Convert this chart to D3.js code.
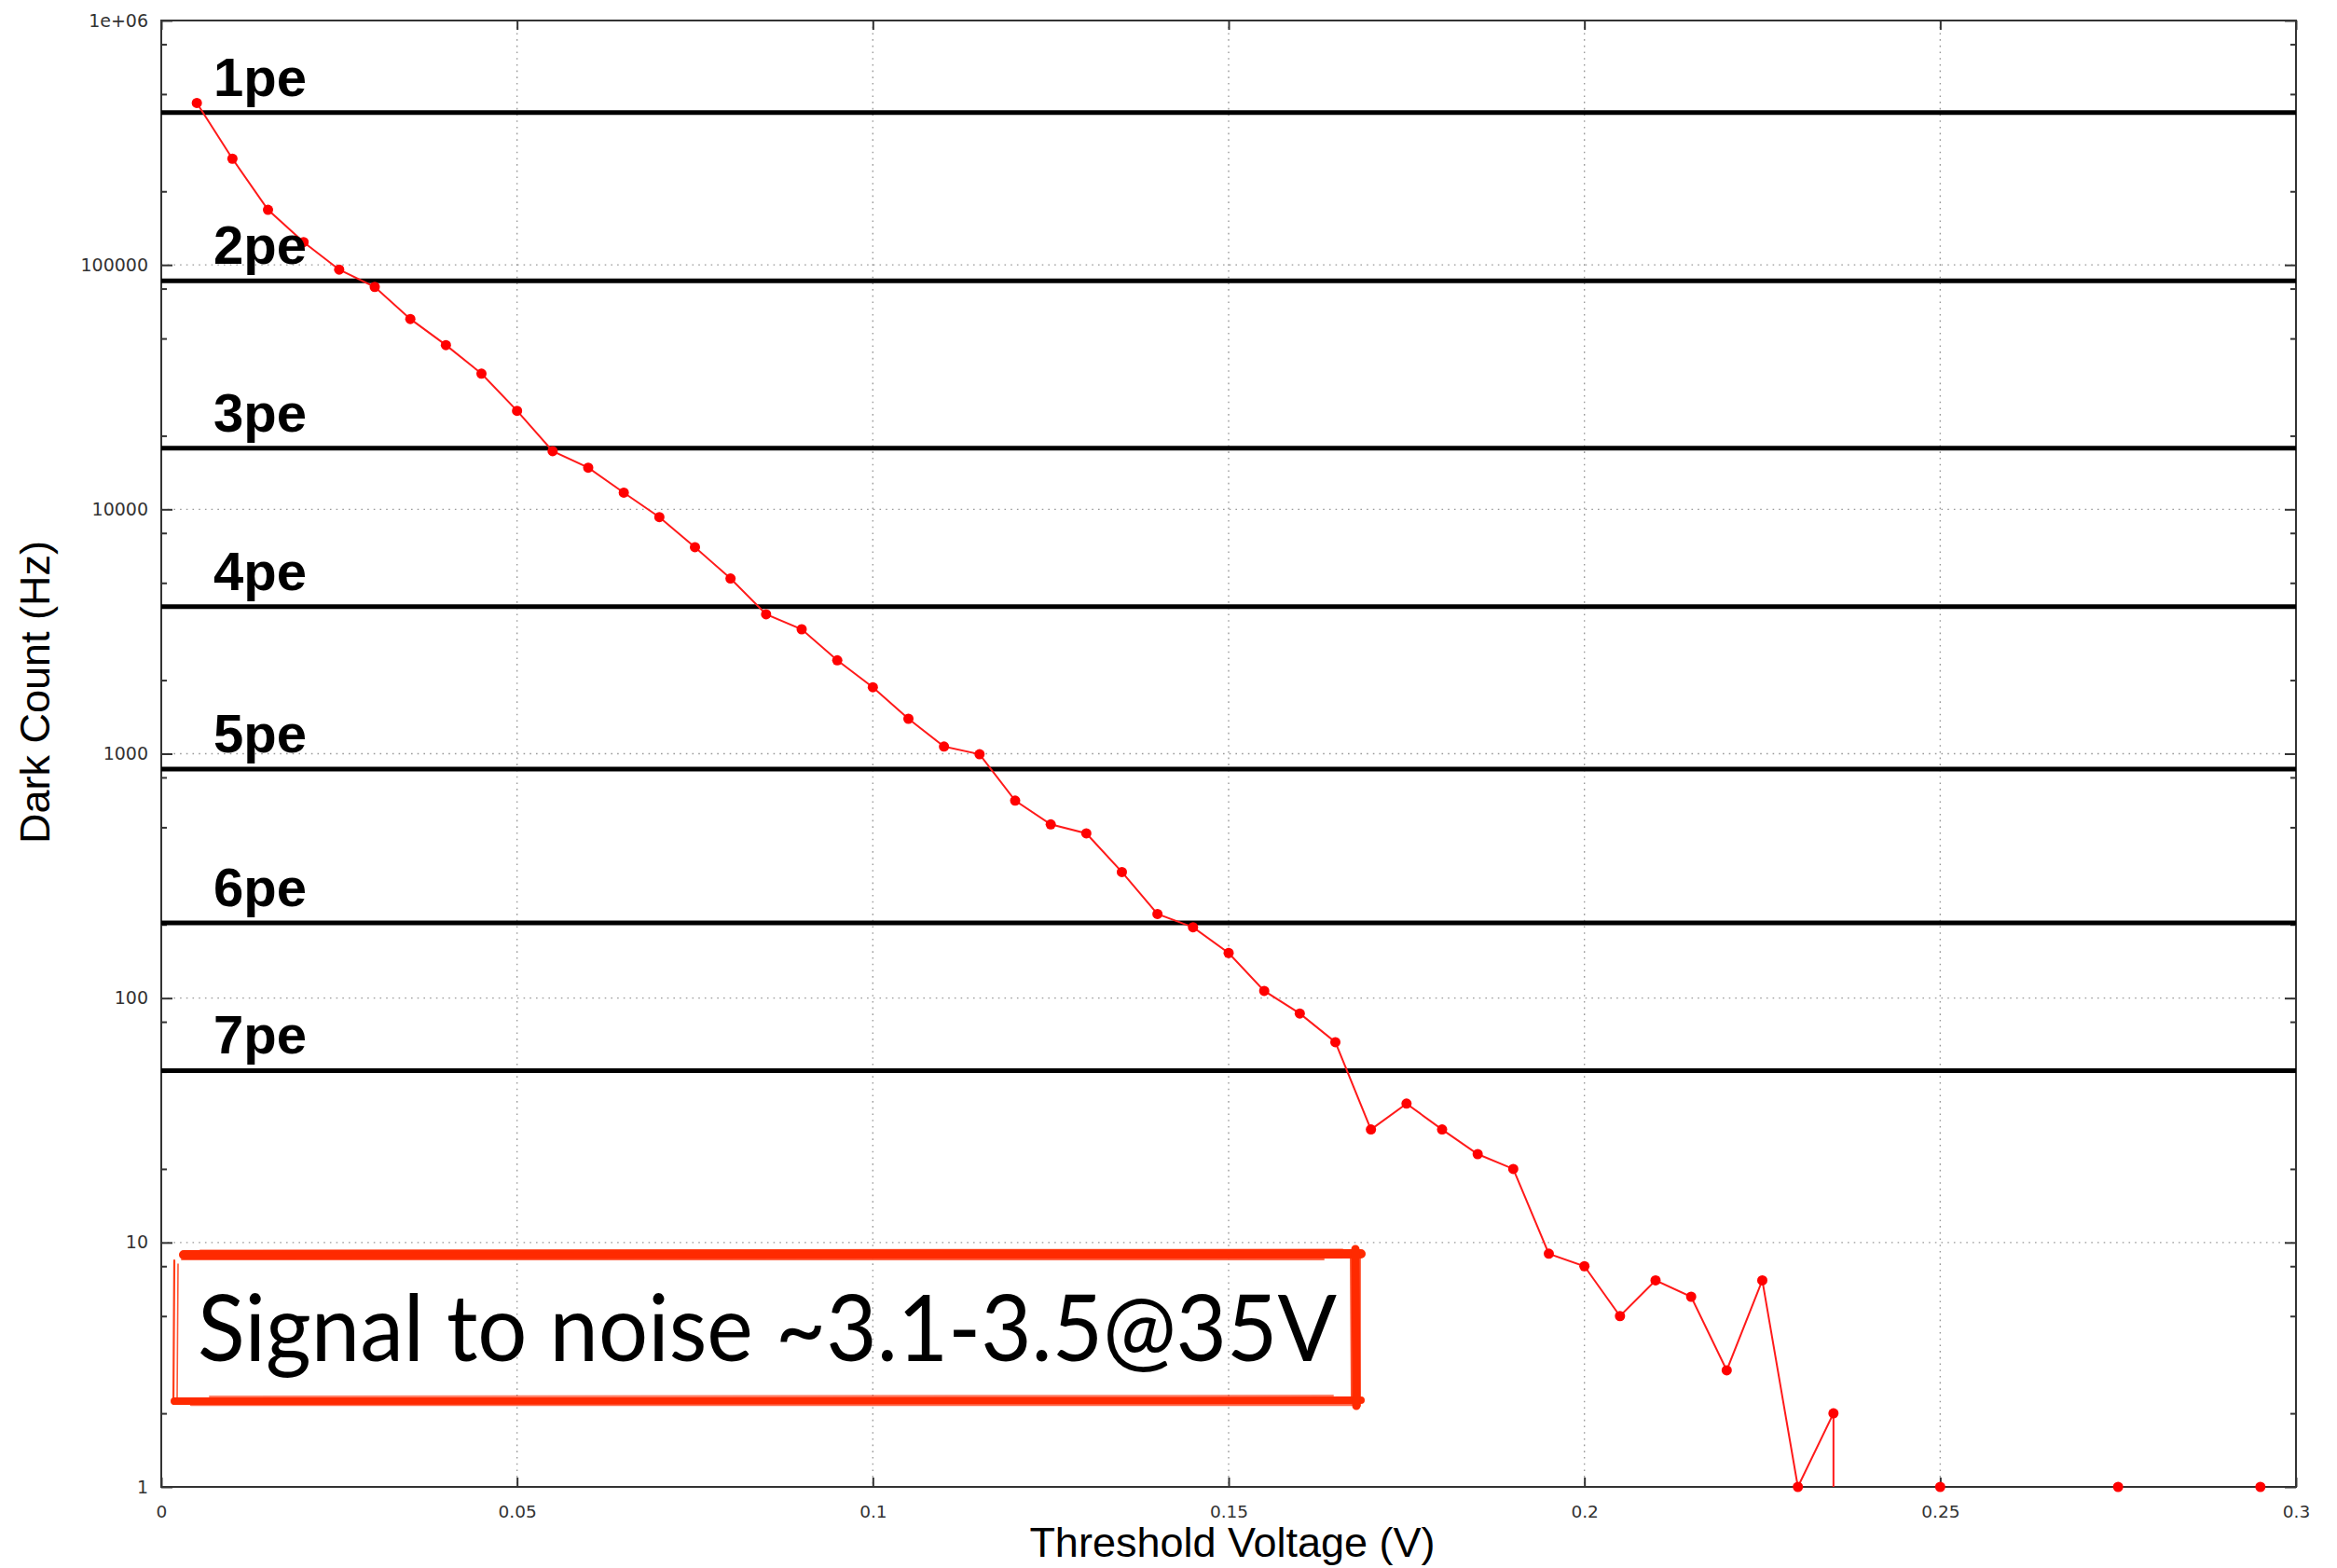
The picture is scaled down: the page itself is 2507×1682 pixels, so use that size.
<!DOCTYPE html>
<html>
<head>
<meta charset="utf-8">
<script src="https://cdn.jsdelivr.net/npm/d3@7"></script>
<style>
  html, body { margin: 0; padding: 0; background: #fff; }
  svg { display: block; }
</style>
</head>
<body>
<svg id="chart" width="2507" height="1682"></svg>
<script>
// Dark count rate vs. discriminator threshold (SiPM at 35 V)
const thresholdVolts = [
  0.005, 0.010, 0.015, 0.020, 0.025, 0.030, 0.035, 0.040, 0.045, 0.050,
  0.055, 0.060, 0.065, 0.070, 0.075, 0.080, 0.085, 0.090, 0.095, 0.100,
  0.105, 0.110, 0.115, 0.120, 0.125, 0.130, 0.135, 0.140, 0.145, 0.150,
  0.155, 0.160, 0.165, 0.170, 0.175, 0.180, 0.185, 0.190, 0.195, 0.200,
  0.205, 0.210, 0.215, 0.220, 0.225, 0.230, 0.235, 0.235
];
// last reading at 0.235 V is below 1 Hz and falls off the log axis
const darkCountHz = [
  460000, 272000, 168000, 124000, 95700, 81300, 60100, 47000, 35900, 25300,
  17300, 14800, 11700, 9290, 7000, 5210, 3720, 3230, 2410, 1870,
  1390, 1070, 995, 643, 514, 472, 328, 221, 195, 153,
  107, 86.5, 66, 29, 37, 29, 23, 20, 9, 8,
  5, 7, 6, 3, 7, 1, 2, 0.5
];
// isolated single counts at high threshold
const sparseVolts = [0.25, 0.275, 0.295];
const sparseHz = [1, 1, 1];

// photo-electron levels
const peLabels = ["1pe", "2pe", "3pe", "4pe", "5pe", "6pe", "7pe"];
const peLevelsHz = [420000, 86000, 17800, 4000, 865, 203, 50.5];

// axis ticks
const xTicks = [0, 0.05, 0.1, 0.15, 0.2, 0.25, 0.3];
const xTickLabels = ["0", "0.05", "0.1", "0.15", "0.2", "0.25", "0.3"];
const yTicks = [1, 10, 100, 1000, 10000, 100000, 1000000];
const yTickLabels = ["1", "10", "100", "1000", "10000", "100000", "1e+06"];
const yMinorMultiples = [2, 5, 8];

const note = "Signal to noise ~3.1-3.5@35V";

// ---- layout ----
const plot = { left: 173, top: 22, right: 2463, bottom: 1595 };
const svg = d3.select("#chart");

const x = d3.scaleLinear().domain([0, 0.3]).range([plot.left, plot.right]);
const y = d3.scaleLog().domain([1, 1e6]).range([plot.bottom, plot.top]);

const tickFont = "'DejaVu Sans', sans-serif";
const axisColor = "#333";

// grid
const grid = svg.append("g").attr("class", "grid")
  .attr("stroke", "#9a9a9a").attr("stroke-width", 1.4)
  .attr("stroke-dasharray", "1.6,5.1");
grid.selectAll("line.gx").data(xTicks.slice(1, -1)).join("line")
  .attr("class", "gx")
  .attr("x1", d => x(d)).attr("x2", d => x(d))
  .attr("y1", plot.top).attr("y2", plot.bottom);
grid.selectAll("line.gy").data(yTicks.slice(1, -1)).join("line")
  .attr("class", "gy")
  .attr("x1", plot.left).attr("x2", plot.right)
  .attr("y1", d => y(d)).attr("y2", d => y(d));

// minor tick values on the log axis
const yMinor = [];
yTicks.slice(0, -1).forEach(t => yMinorMultiples.forEach(m => yMinor.push(t * m)));

function styleAxis(g) {
  g.select(".domain").remove();
  g.selectAll(".tick line").attr("stroke", axisColor).attr("stroke-width", 2);
  g.selectAll(".tick text").attr("fill", axisColor)
    .attr("font-family", tickFont).attr("font-size", 19);
}

// left axis (ticks point inward)
svg.append("g").attr("transform", `translate(${plot.left},0)`)
  .call(d3.axisLeft(y).tickValues(yTicks).tickSize(-12).tickPadding(14)
    .tickFormat((d, i) => yTickLabels[i]))
  .call(styleAxis);
svg.append("g").attr("transform", `translate(${plot.left},0)`)
  .call(d3.axisLeft(y).tickValues(yMinor).tickSize(-6).tickFormat(""))
  .call(styleAxis);
// right mirror
svg.append("g").attr("transform", `translate(${plot.right},0)`)
  .call(d3.axisRight(y).tickValues(yTicks).tickSize(-12).tickFormat(""))
  .call(styleAxis);
svg.append("g").attr("transform", `translate(${plot.right},0)`)
  .call(d3.axisRight(y).tickValues(yMinor).tickSize(-6).tickFormat(""))
  .call(styleAxis);

// bottom axis
svg.append("g").attr("transform", `translate(0,${plot.bottom})`)
  .call(d3.axisBottom(x).tickValues(xTicks).tickSize(-10).tickPadding(20)
    .tickFormat((d, i) => xTickLabels[i]))
  .call(styleAxis)
  .call(g => g.selectAll(".tick text").attr("font-size", 18.5));
// top mirror
svg.append("g").attr("transform", `translate(0,${plot.top})`)
  .call(d3.axisTop(x).tickValues(xTicks).tickSize(-10).tickFormat(""))
  .call(styleAxis);

// frame
svg.append("rect")
  .attr("x", plot.left).attr("y", plot.top)
  .attr("width", plot.right - plot.left).attr("height", plot.bottom - plot.top)
  .attr("fill", "none").attr("stroke", axisColor).attr("stroke-width", 2);

// axis titles
const titleFont = "'Liberation Sans', Arial, sans-serif";
svg.append("text")
  .attr("x", (plot.left + plot.right) / 2 + 4).attr("y", 1670)
  .attr("text-anchor", "middle")
  .attr("font-family", titleFont).attr("font-size", 45).attr("fill", "#000")
  .text("Threshold Voltage (V)");
svg.append("text")
  .attr("transform", `translate(53,${(plot.top + plot.bottom) / 2 - 66}) rotate(-90)`)
  .attr("text-anchor", "middle")
  .attr("font-family", titleFont).attr("font-size", 45).attr("fill", "#000")
  .text("Dark Count (Hz)");

// photo-electron threshold levels
const pe = svg.append("g").attr("class", "pe-levels");
pe.selectAll("line").data(peLevelsHz).join("line")
  .attr("x1", plot.left).attr("x2", plot.right)
  .attr("y1", d => y(d)).attr("y2", d => y(d))
  .attr("stroke", "#000").attr("stroke-width", 5);

// data series
svg.append("clipPath").attr("id", "plot-clip")
  .append("rect")
  .attr("x", plot.left).attr("y", plot.top)
  .attr("width", plot.right - plot.left).attr("height", plot.bottom - plot.top);

const series = thresholdVolts.map((v, i) => ({ v, hz: darkCountHz[i] }));
const line = d3.line().x(d => x(d.v)).y(d => y(Math.max(d.hz, 1e-3)));

svg.append("path")
  .datum(series)
  .attr("clip-path", "url(#plot-clip)")
  .attr("fill", "none").attr("stroke", "#ff1a1a").attr("stroke-width", 2)
  .attr("d", line);

const dots = series.filter(d => d.hz >= 1)
  .concat(sparseVolts.map((v, i) => ({ v, hz: sparseHz[i] })));
svg.append("g").selectAll("circle").data(dots).join("circle")
  .attr("cx", d => x(d.v)).attr("cy", d => y(d.hz))
  .attr("r", 5.5).attr("fill", "#ff0000");

// level labels sit on top of the curve
svg.append("g").selectAll("text").data(peLevelsHz).join("text")
  .attr("x", plot.left + 56).attr("y", d => y(d) - 18)
  .attr("font-family", titleFont).attr("font-weight", "bold")
  .attr("font-size", 58).attr("fill", "#000")
  .text((d, i) => peLabels[i]);

// annotation box with a hand-drawn red border
const box = { left: 185, right: 1460, top: 1340, bottom: 1508 };
const boxColor = "#ff2a00";
const ann = svg.append("g").attr("class", "annotation");
const strokes = [
  // top
  [box.left + 12, box.top + 6, box.right, box.top + 5, 10, 1],
  [box.left + 30, box.top + 2, box.right - 20, box.top + 1, 3, 0.8],
  [box.left + 10, box.top + 11, box.right - 40, box.top + 11, 2, 0.7],
  // bottom
  [box.left + 2, box.bottom - 5, box.right, box.bottom - 6, 8, 1],
  [box.left + 20, box.bottom - 1, box.right - 10, box.bottom - 1, 2.5, 0.7],
  [box.left + 40, box.bottom - 10, box.right - 30, box.bottom - 11, 2, 0.6],
  // right
  [box.right - 6, box.top, box.right - 5, box.bottom, 9, 1],
  [box.right - 11, box.top + 8, box.right - 10, box.bottom - 6, 2, 0.8],
  [box.right - 1, box.top + 4, box.right - 1, box.bottom, 2, 0.7],
  // left
  [box.left + 2, box.top + 12, box.left + 1, box.bottom - 2, 2.2, 0.9],
  [box.left + 6, box.top + 16, box.left + 5, box.bottom - 6, 1.6, 0.8]
];
ann.selectAll("line").data(strokes).join("line")
  .attr("x1", d => d[0]).attr("y1", d => d[1])
  .attr("x2", d => d[2]).attr("y2", d => d[3])
  .attr("stroke", boxColor).attr("stroke-width", d => d[4])
  .attr("stroke-opacity", d => d[5]).attr("stroke-linecap", "round");

ann.append("text")
  .attr("x", 212).attr("y", 1460)
  .attr("font-family", "Lato, 'Open Sans', sans-serif")
  .attr("font-size", 98).attr("fill", "#000")
  .attr("textLength", 1222).attr("lengthAdjust", "spacingAndGlyphs")
  .text(note);
</script>
</body>
</html>
